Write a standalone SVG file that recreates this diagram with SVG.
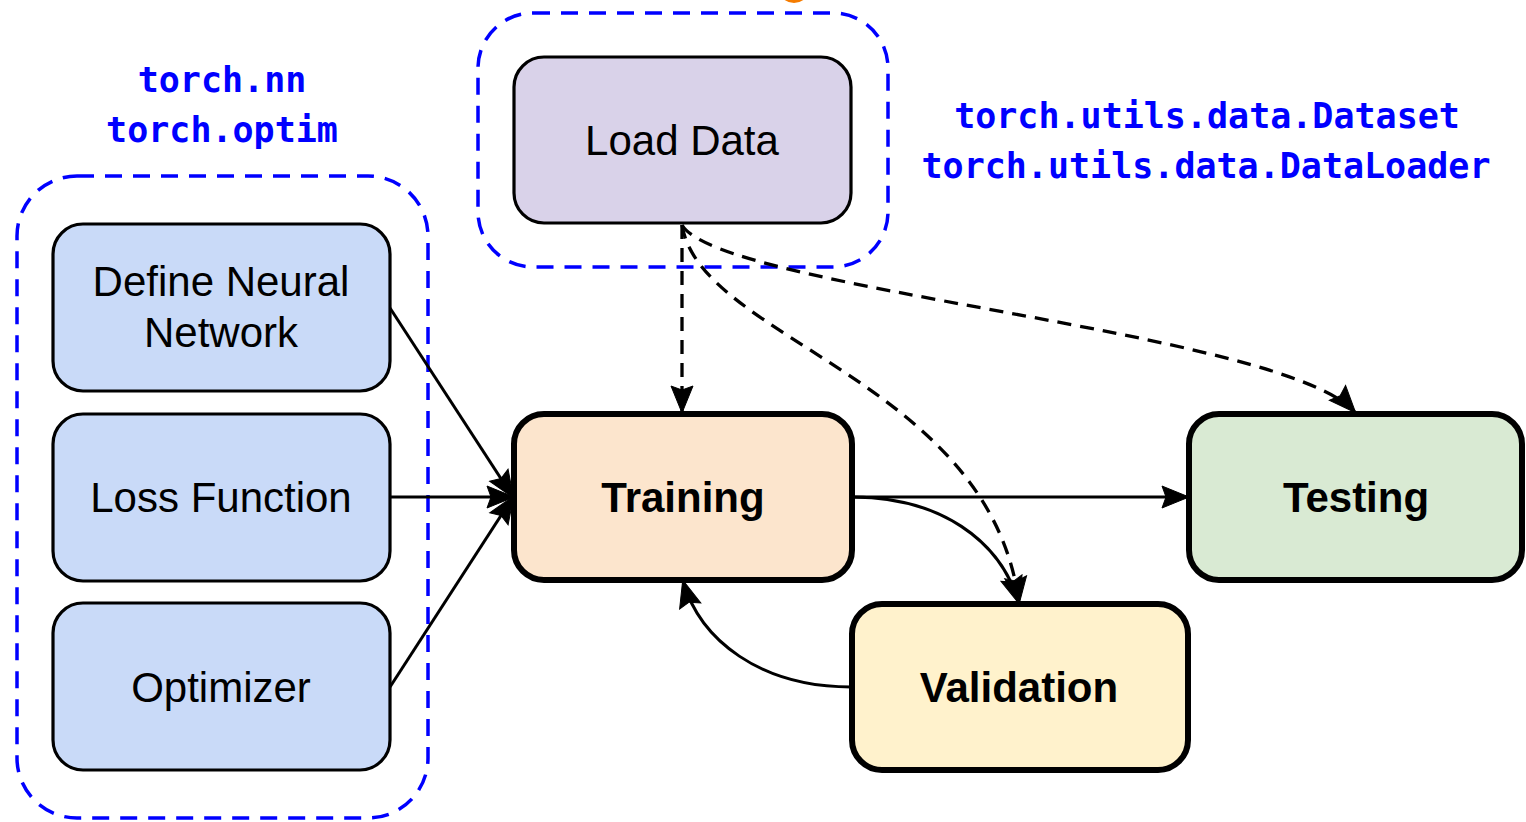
<svg xmlns="http://www.w3.org/2000/svg" width="1526" height="822" viewBox="0 0 1526 822">
  <style>
    .grp { fill: none; stroke: #0000ff; stroke-width: 3.5; stroke-dasharray: 17 11; }
    .api { font-family: "DejaVu Sans Mono", "Liberation Mono", monospace; font-weight: bold; font-size: 35px; fill: #0000ff; text-anchor: middle; }
    .box { stroke: #000; stroke-width: 3.2; }
    .main { stroke: #000; stroke-width: 6; }
    .lbl { font-family: "Liberation Sans", Arial, sans-serif; font-size: 42px; fill: #000; text-anchor: middle; }
    .bold { font-weight: bold; }
    .edge { fill: none; stroke: #000; stroke-width: 3; }
    .dash { stroke-width: 3.3; stroke-dasharray: 14 9; }
  </style>
  <defs>
    <marker id="arrow" markerUnits="userSpaceOnUse" markerWidth="30" markerHeight="26" viewBox="0 0 30 26" refX="27" refY="13" orient="auto">
      <path d="M1,2 L28,13 L1,24 L5,13 Z" fill="#000" stroke="#000" stroke-width="1" stroke-linejoin="miter"/>
    </marker>
  </defs>

  <rect width="1526" height="822" fill="#fff"/>

  <!-- small orange mark at the top edge -->
  <circle cx="794" cy="-13" r="16" fill="#f57c00"/>

  <!-- dashed API groups -->
  <g id="group-nn">
    <rect class="grp" x="17" y="176" width="411" height="642" rx="60"/>
    <text class="api" x="222" y="92">torch.nn</text>
    <text class="api" x="222" y="142">torch.optim</text>
  </g>
  <g id="group-data">
    <rect class="grp" x="478" y="13" width="410" height="254" rx="55"/>
    <text class="api" x="1207" y="128">torch.utils.data.Dataset</text>
    <text class="api" x="1206" y="178">torch.utils.data.DataLoader</text>
  </g>

  <!-- connectors -->
  <g id="connectors">
    <path class="edge" d="M390,308 L513,497" marker-end="url(#arrow)"/>
    <path class="edge" d="M390,497 L513,497" marker-end="url(#arrow)"/>
    <path class="edge" d="M390,687 L513,497" marker-end="url(#arrow)"/>
    <path class="edge" d="M852,497 L1188,497" marker-end="url(#arrow)"/>
    <path class="edge" d="M852,497 C940,497 1000,540 1019,603" marker-end="url(#arrow)"/>
    <path class="edge" d="M851,687 C760,687 700,640 683,581" marker-end="url(#arrow)"/>
    <path class="edge dash" d="M682,225 L682,412" marker-end="url(#arrow)"/>
    <path class="edge dash" d="M682,225 C700,340 990,380 1019,603" marker-end="url(#arrow)"/>
    <path class="edge dash" d="M682,225 C720,290 1280,330 1355,412" marker-end="url(#arrow)"/>
  </g>

  <!-- nodes -->
  <g id="load-data">
    <rect class="box" x="514" y="57" width="337" height="166" rx="30" fill="#d9d2e9"/>
    <text class="lbl" x="682" y="155">Load Data</text>
  </g>
  <g id="define-network">
    <rect class="box" x="53" y="224" width="337" height="167" rx="30" fill="#c9daf8"/>
    <text class="lbl" x="221" y="296">Define Neural</text>
    <text class="lbl" x="221" y="347">Network</text>
  </g>
  <g id="loss-function">
    <rect class="box" x="53" y="414" width="337" height="167" rx="30" fill="#c9daf8"/>
    <text class="lbl" x="221" y="512">Loss Function</text>
  </g>
  <g id="optimizer">
    <rect class="box" x="53" y="603" width="337" height="167" rx="30" fill="#c9daf8"/>
    <text class="lbl" x="221" y="702">Optimizer</text>
  </g>
  <g id="training">
    <rect class="main" x="514" y="414" width="338" height="166" rx="30" fill="#fce5cd"/>
    <text class="lbl bold" x="683" y="512">Training</text>
  </g>
  <g id="testing">
    <rect class="main" x="1189" y="414" width="333" height="166" rx="30" fill="#d9ead3"/>
    <text class="lbl bold" x="1356" y="512">Testing</text>
  </g>
  <g id="validation">
    <rect class="main" x="852" y="604" width="336" height="166" rx="30" fill="#fff2cc"/>
    <text class="lbl bold" x="1019" y="702">Validation</text>
  </g>
</svg>
